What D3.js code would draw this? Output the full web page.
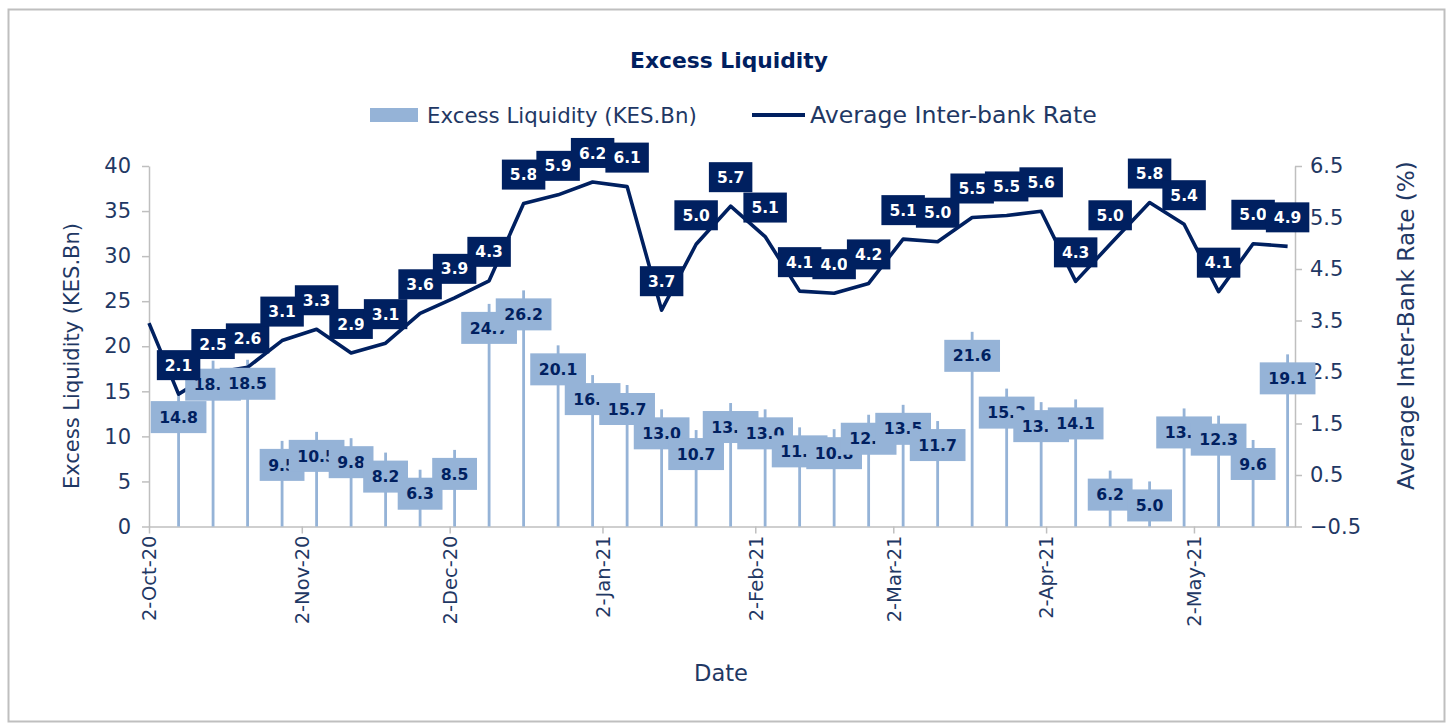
<!DOCTYPE html>
<html>
<head>
<meta charset="utf-8">
<script src="https://cdn.jsdelivr.net/npm/d3@7"></script>
<style>
  html, body { margin: 0; padding: 0; background: #fff; }
  svg { display: block; font-family: "DejaVu Sans", sans-serif; }
</style>
</head>
<body>
<svg id="chart" width="1450" height="726"></svg>
<script>
// ---------------- data ----------------
const dates = ["2020-10-02","2020-10-08","2020-10-15","2020-10-22","2020-10-29","2020-11-05","2020-11-12","2020-11-19","2020-11-26","2020-12-03","2020-12-10","2020-12-17","2020-12-24","2020-12-31","2021-01-07","2021-01-14","2021-01-21","2021-01-28","2021-02-04","2021-02-11","2021-02-18","2021-02-25","2021-03-04","2021-03-11","2021-03-18","2021-03-25","2021-04-01","2021-04-08","2021-04-15","2021-04-23","2021-04-30","2021-05-07","2021-05-14","2021-05-21"];
const excessLiquidity = [null,14.8,18.4,18.5,9.5,10.5,9.8,8.2,6.3,8.5,24.7,26.2,20.1,16.8,15.7,13.0,10.7,13.7,13.0,11.0,10.8,12.4,13.5,11.7,21.6,15.3,13.8,14.1,6.2,5.0,13.1,12.3,9.6,19.1];
const interbankRate = [3.45,2.07,2.48,2.59,3.11,3.33,2.87,3.06,3.64,3.94,4.27,5.77,5.94,6.19,6.10,3.70,4.98,5.72,5.13,4.07,4.03,4.22,5.08,5.03,5.50,5.54,5.62,4.26,4.98,5.79,5.37,4.06,4.99,4.94];
const xTickDates = ["2020-10-02","2020-11-02","2020-12-02","2021-01-02","2021-02-02","2021-03-02","2021-04-02","2021-05-02"];
const leftTicks = [0,5,10,15,20,25,30,35,40];
const rightTicks = [-0.5,0.5,1.5,2.5,3.5,4.5,5.5,6.5];
const seriesNames = ["Excess Liquidity (KES.Bn)", "Average Inter-bank Rate"];
const titleText = "Excess Liquidity";
const xTitle = "Date";
const yLeftTitle = "Excess Liquidity (KES.Bn)";
const yRightTitle = "Average Inter-Bank Rate (%)";

// ---------------- styling ----------------
const NAVY = "#002060";
const TEXT = "#1f3864";
const LIGHT = "#95b3d7";
const AXIS = "#bfbfbf";

const parse = s => new Date(s + "T00:00:00Z");
const data = dates.map((d, i) => ({ date: parse(d), bar: excessLiquidity[i], rate: interbankRate[i] }));

const svg = d3.select("#chart");
const plot = { left: 149, right: 1295, top: 166, bottom: 526.5 };

// scale a text's font size so that it spans a given width
function fit(sel, width) {
  const fs = parseFloat(sel.attr("font-size"));
  const len = sel.node().getComputedTextLength();
  sel.attr("font-size", (fs * width / len).toFixed(2));
  return sel;
}

// outer border
svg.append("rect").attr("x", 8.5).attr("y", 9.5).attr("width", 1436).attr("height", 712)
  .attr("fill", "#fff").attr("stroke", AXIS).attr("stroke-width", 2);

const x = d3.scaleUtc()
  .domain([parse(dates[0]), new Date(Date.UTC(2021, 4, 22, 12))])
  .range([plot.left, plot.right]);
const yL = d3.scaleLinear().domain([0, 40]).range([plot.bottom, plot.top]);
const yR = d3.scaleLinear().domain([-0.5, 6.5]).range([plot.bottom, plot.top]);

// title
fit(svg.append("text").attr("x", 729).attr("y", 68).attr("text-anchor", "middle")
  .attr("font-weight", "bold").attr("font-size", 20).attr("fill", NAVY).text(titleText), 198);

// legend
svg.append("rect").attr("x", 370).attr("y", 108).attr("width", 48).attr("height", 14).attr("fill", LIGHT);
fit(svg.append("text").attr("x", 427).attr("y", 123).attr("font-size", 20).attr("fill", TEXT).text(seriesNames[0]), 270);
svg.append("line").attr("x1", 752).attr("x2", 805).attr("y1", 115).attr("y2", 115)
  .attr("stroke", NAVY).attr("stroke-width", 4);
fit(svg.append("text").attr("x", 810).attr("y", 123).attr("font-size", 20).attr("fill", TEXT).text(seriesNames[1]), 287);

// axes
function styleAxis(g) {
  g.select(".domain").attr("stroke", AXIS).attr("stroke-width", 1.5);
  g.selectAll(".tick line").attr("stroke", AXIS).attr("stroke-width", 1.5);
  g.selectAll(".tick text").attr("fill", TEXT).attr("font-family", "DejaVu Sans, sans-serif");
}
const gL = svg.append("g").attr("transform", `translate(${plot.left},0)`)
  .call(d3.axisLeft(yL).tickValues(leftTicks).tickSize(7).tickPadding(11).tickSizeOuter(0));
styleAxis(gL); gL.selectAll(".tick text").attr("font-size", 21);

const gR = svg.append("g").attr("transform", `translate(${plot.right},0)`)
  .call(d3.axisRight(yR).tickValues(rightTicks).tickFormat(d3.format(".1f")).tickSize(7).tickPadding(8).tickSizeOuter(0));
styleAxis(gR); gR.selectAll(".tick text").attr("font-size", 21);

const gX = svg.append("g").attr("transform", `translate(0,${plot.bottom})`)
  .call(d3.axisBottom(x).tickValues(xTickDates.map(parse)).tickFormat(d3.utcFormat("%-d-%b-%y")).tickSize(7).tickSizeOuter(0));
styleAxis(gX);
gX.selectAll(".tick text").attr("font-size", 19.5)
  .attr("transform", "rotate(-90)").attr("text-anchor", "end")
  .attr("x", -9).attr("y", 0).attr("dy", "0.35em");

// axis titles
fit(svg.append("text").attr("transform", "translate(79,489) rotate(-90)").attr("text-anchor", "start")
  .attr("font-size", 20).attr("fill", TEXT).text(yLeftTitle), 266);
fit(svg.append("text").attr("transform", "translate(1414,490) rotate(-90)").attr("text-anchor", "start")
  .attr("font-size", 20).attr("fill", TEXT).text(yRightTitle), 329);
fit(svg.append("text").attr("x", 721).attr("y", 681).attr("text-anchor", "middle")
  .attr("font-size", 20).attr("fill", TEXT).text(xTitle), 54);

// bars
const barData = data.filter(d => d.bar != null);
svg.append("g").selectAll("rect").data(barData).join("rect")
  .attr("x", d => x(d.date) - 1.4).attr("width", 2.8)
  .attr("y", d => yL(d.bar)).attr("height", d => yL(0) - yL(d.bar))
  .attr("fill", LIGHT);

// line
svg.append("path").datum(data)
  .attr("d", d3.line().x(d => x(d.date)).y(d => yR(d.rate)))
  .attr("fill", "none").attr("stroke", NAVY).attr("stroke-width", 3.6).attr("stroke-linejoin", "round");

// bar labels
const barLab = svg.append("g");
barData.forEach(d => {
  const g = barLab.append("g");
  const t = g.append("text").attr("font-size", 15.7).attr("font-weight", "bold").attr("fill", NAVY)
    .attr("text-anchor", "middle").text(d.bar.toFixed(1));
  const w = t.node().getComputedTextLength() + 17;
  const cx = x(d.date), top = yL(d.bar) + 8, h = 32;
  g.insert("rect", "text").attr("x", cx - w / 2).attr("y", top).attr("width", w).attr("height", h).attr("fill", LIGHT);
  t.attr("x", cx).attr("y", top + h / 2).attr("dy", "0.36em");
});

// line labels
const lineLab = svg.append("g");
data.slice(1).forEach(d => {
  const g = lineLab.append("g");
  const t = g.append("text").attr("font-size", 15.5).attr("font-weight", "bold").attr("fill", "#fff")
    .attr("text-anchor", "middle").text(d.rate.toFixed(1));
  const w = t.node().getComputedTextLength() + 16;
  const cx = x(d.date), h = 30, bottom = yR(d.rate) - 14;
  g.insert("rect", "text").attr("x", cx - w / 2).attr("y", bottom - h).attr("width", w).attr("height", h).attr("fill", NAVY);
  t.attr("x", cx).attr("y", bottom - h / 2).attr("dy", "0.36em");
});
</script>
</body>
</html>
